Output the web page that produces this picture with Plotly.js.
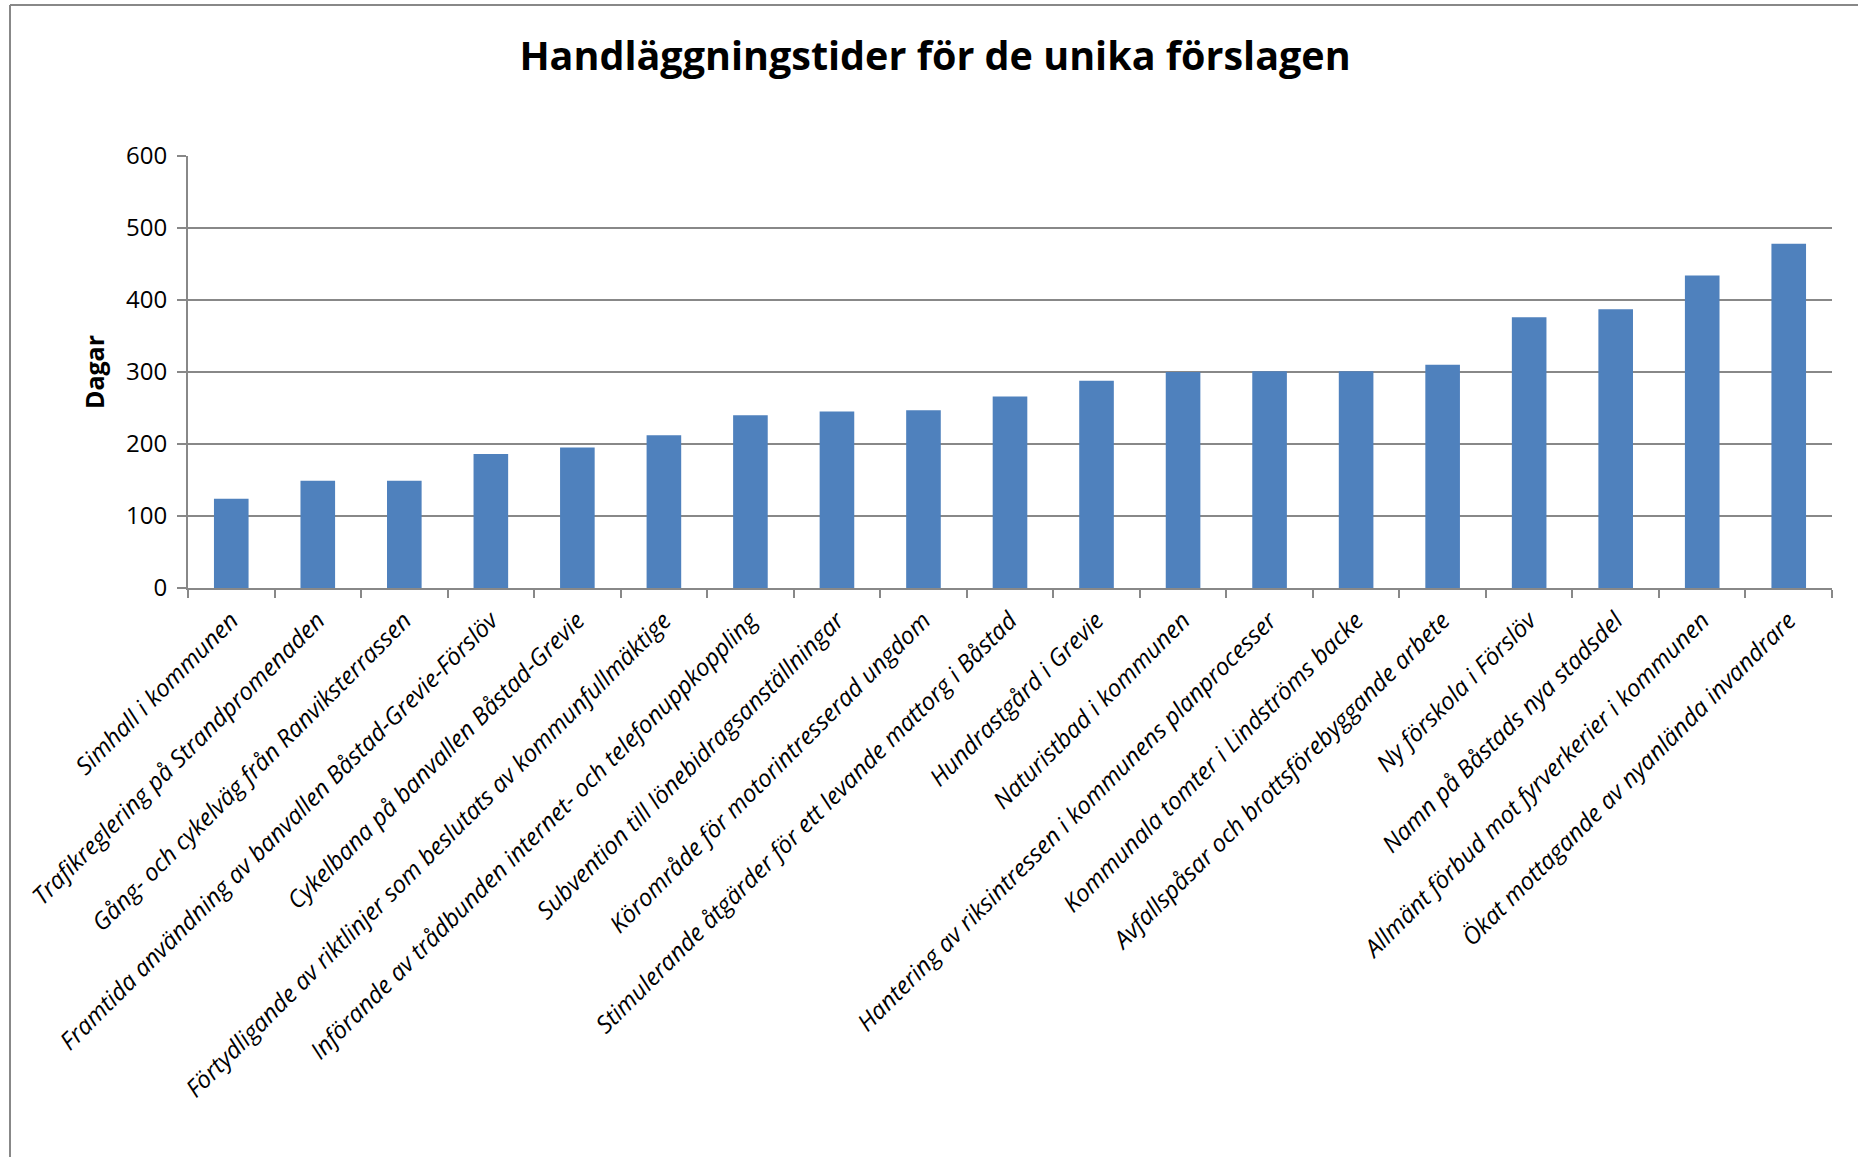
<!DOCTYPE html>
<html>
<head>
<meta charset="utf-8">
<script src="https://cdn.plot.ly/plotly-3.0.1.min.js"></script>
<style>
  html, body { margin: 0; padding: 0; background: #fff; }
  #chart { width: 1858px; height: 1157px; }
</style>
</head>
<body>
<div id="chart"></div>
<script>
const categories = [
  "Simhall i kommunen",
  "Trafikreglering på Strandpromenaden",
  "Gång- och cykelväg från Ranviksterrassen",
  "Framtida användning av banvallen Båstad-Grevie-Förslöv",
  "Cykelbana på banvallen Båstad-Grevie",
  "Förtydligande av riktlinjer som beslutats av kommunfullmäktige",
  "Införande av trådbunden internet- och telefonuppkoppling",
  "Subvention till lönebidragsanställningar",
  "Körområde för motorintresserad ungdom",
  "Stimulerande åtgärder för ett levande mattorg i Båstad",
  "Hundrastgård i Grevie",
  "Naturistbad i kommunen",
  "Hantering av riksintressen i kommunens planprocesser",
  "Kommunala tomter i Lindströms backe",
  "Avfallspåsar och brottsförebyggande arbete",
  "Ny förskola i Förslöv",
  "Namn på Båstads nya stadsdel",
  "Allmänt förbud mot fyrverkerier i kommunen",
  "Ökat mottagande av nyanlända invandrare"
];
const days = [124, 149, 149, 186, 195, 212, 240, 245, 247, 266, 288, 300, 301, 301, 310, 376, 387, 434, 478];
const yTicks = [0, 100, 200, 300, 400, 500, 600];

const titleText = "Handläggningstider för de unika förslagen";
const yTitle = "Dagar";

const W = 1858, H = 1157;
const margin = {l: 188, r: 26, t: 156, b: 569};
const pw = W - margin.l - margin.r, ph = H - margin.t - margin.b;
const px2x = p => (p - margin.l) / pw;
const py2y = p => (H - margin.b - p) / ph;

const gray = "#888888";

const trace = {
  type: "bar",
  x: categories,
  y: days,
  marker: {color: "#4F81BD", line: {width: 0}},
  hoverinfo: "x+y"
};

const layout = {
  width: W, height: H,
  margin: margin,
  paper_bgcolor: "#ffffff",
  plot_bgcolor: "#ffffff",
  showlegend: false,
  bargap: 0.6,
  title: {
    text: "<b>" + titleText + "</b>",
    font: {family: "Open Sans, sans-serif", size: 39.5, color: "#000"},
    xref: "container", yref: "container",
    x: 935 / W, xanchor: "center",
    y: 1 - 56 / H, yanchor: "middle"
  },
  xaxis: {
    type: "category",
    tickangle: -45,
    showline: true, linecolor: gray, linewidth: 2,
    ticks: "outside", tickson: "boundaries", ticklen: 8, tickcolor: gray, tickwidth: 2,
    ticklabelstandoff: 7,
    showgrid: false,
    tickfont: {family: "Open Sans, sans-serif", size: 24, color: "#000", style: "italic"},
    automargin: false
  },
  yaxis: {
    range: [0, 600],
    tickvals: yTicks,
    ticktext: yTicks.map(String),
    showline: true, linecolor: gray, linewidth: 2,
    ticks: "outside", ticklen: 9, tickcolor: gray, tickwidth: 2,
    ticklabelstandoff: 5,
    showgrid: true, gridcolor: gray, gridwidth: 2,
    zeroline: false,
    tickfont: {family: "Open Sans, sans-serif", size: 24, color: "#000"},
    title: {text: "<b>" + yTitle + "</b>", font: {family: "Open Sans, sans-serif", size: 25, color: "#000"}, standoff: 14},
    automargin: false
  },
  shapes: [
    {type: "line", xref: "paper", yref: "paper", x0: px2x(10), x1: px2x(10), y0: py2y(5), y1: py2y(H + 5), line: {color: gray, width: 2}},
    {type: "line", xref: "paper", yref: "paper", x0: px2x(10), x1: px2x(W + 5), y0: py2y(5), y1: py2y(5), line: {color: gray, width: 2}}
  ]
};

Plotly.newPlot("chart", [trace], layout, {displayModeBar: false, staticPlot: true});
</script>
</body>
</html>
